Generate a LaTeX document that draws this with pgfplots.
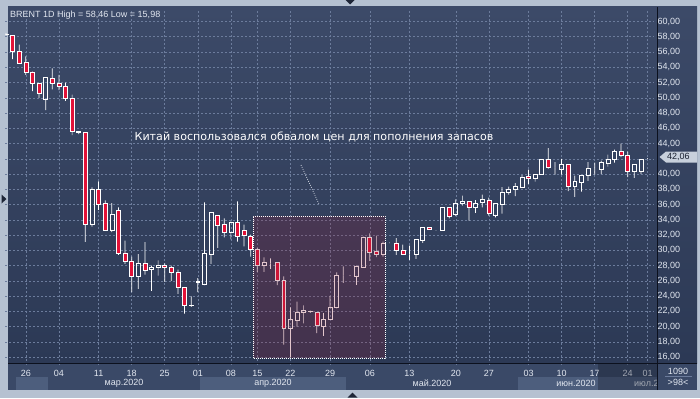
\documentclass[border=0pt]{standalone}
\usepackage{pgfplots}
\pgfplotsset{compat=1.18}
\usepackage{pgfplotstable}
\usepackage{fontspec}
\setmainfont{Liberation Sans}
\newfontfamily\dejavu{DejaVu Sans}
\definecolor{framec}{RGB}{181,193,209}
\definecolor{bgtop}{RGB}{60,74,104}
\definecolor{bgbot}{RGB}{44,57,85}
\definecolor{botbg}{RGB}{58,73,103}
\definecolor{bandlight}{RGB}{77,94,125}
\definecolor{gridc}{RGB}{108,124,156}
\definecolor{lbl}{RGB}{226,231,240}
\definecolor{cred}{RGB}{226,18,56}
\definecolor{boxc}{RGB}{140,31,55}
\definecolor{sepc}{RGB}{12,17,30}
\definecolor{tagc}{RGB}{200,208,220}
\definecolor{tagtxt}{RGB}{25,32,48}
\definecolor{tric}{RGB}{30,38,55}

\pgfplotstableread{
i o h l c
0 58.35 58.46 58.30 58.38
1 58.13 58.13 55.07 56.03
2 56.08 56.95 54.50 54.55
3 54.60 55.42 53.00 53.37
4 53.40 53.42 50.88 51.84
5 51.84 51.84 50.00 50.53
6 49.75 52.63 48.39 52.63
7 52.50 53.85 51.10 51.84
8 51.84 53.00 51.00 51.45
9 51.45 51.97 49.60 49.88
10 49.88 50.40 45.10 45.55
11 45.50 45.55 45.25 45.55
12 45.47 45.47 31.10 33.46
13 33.46 38.26 33.10 38.00
14 38.00 39.05 35.30 36.08
15 36.12 36.56 32.60 32.67
16 32.67 36.20 32.40 34.72
17 35.21 35.65 29.40 29.67
18 29.67 31.28 28.23 28.62
19 28.62 29.19 24.52 26.57
20 26.57 29.50 24.95 28.31
21 28.31 31.07 26.83 27.44
22 27.48 28.00 24.70 27.74
23 27.74 28.70 26.70 28.00
24 28.00 28.31 25.87 27.74
25 27.74 28.00 26.00 27.08
26 27.08 27.48 24.30 25.13
27 25.13 25.13 21.72 22.77
28 22.77 23.96 22.60 22.80
29 25.78 26.35 24.52 26.00
30 25.60 36.30 25.43 29.62
31 29.54 34.95 28.23 34.95
32 34.56 34.56 30.32 33.34
33 33.38 34.20 31.70 32.42
34 32.40 33.80 31.44 33.63
35 33.67 36.42 31.14 31.80
36 32.58 33.37 30.52 31.92
37 31.83 32.05 29.17 30.10
38 30.10 30.32 27.17 28.00
39 28.00 29.09 27.17 28.39
40 28.30 28.96 27.56 28.30
41 28.39 28.39 25.46 26.03
42 26.03 26.60 17.64 19.74
43 19.74 22.54 15.98 20.92
44 20.79 23.28 20.00 21.84
45 21.84 22.80 20.44 22.10
46 22.05 22.10 21.80 21.95
47 21.84 21.90 19.14 20.13
48 20.00 21.76 18.79 20.96
49 20.92 24.03 20.90 22.54
50 22.55 27.10 22.40 26.70
51 26.70 27.90 25.74 26.70
52 26.70 26.75 26.65 26.70
53 26.65 28.00 25.47 27.96
54 27.83 31.80 27.80 31.68
55 31.68 32.24 28.62 29.80
56 29.84 31.94 29.10 29.45
57 29.45 31.15 29.19 30.90
58 30.98 31.00 30.95 30.98
59 30.98 31.59 29.40 29.97
60 29.97 30.76 29.45 29.45
61 29.45 30.63 28.75 29.45
62 29.45 31.46 28.90 31.46
63 31.37 32.99 30.98 32.99
64 32.99 33.00 32.70 32.73
65 32.60 32.62 32.58 32.60
66 32.60 35.60 32.60 35.60
67 35.60 35.60 34.20 34.50
68 34.77 36.68 34.50 36.11
69 36.11 37.17 35.86 36.38
70 36.38 36.38 33.90 35.60
71 35.60 36.60 34.90 36.11
72 36.25 37.30 35.64 36.68
73 36.55 36.90 34.55 34.80
74 34.64 36.11 34.33 36.11
75 36.03 38.30 34.80 37.56
76 37.56 38.35 37.30 38.00
77 37.95 38.80 37.10 38.43
78 38.30 39.87 38.20 39.61
79 39.66 40.57 38.70 39.44
80 39.44 39.96 39.00 39.96
81 39.96 41.90 39.90 41.88
82 41.88 43.41 40.70 40.83
83 40.83 41.58 39.92 40.83
84 40.66 42.00 39.92 41.27
85 41.27 41.27 37.78 38.35
86 38.35 39.80 37.00 39.04
87 38.87 39.80 37.70 39.79
88 39.79 41.58 39.10 40.70
89 40.70 41.50 39.92 40.70
90 40.57 41.75 40.00 41.49
91 41.45 42.54 40.96 41.88
92 41.88 43.20 41.50 42.93
93 42.93 44.00 42.23 42.45
94 42.41 42.93 39.60 40.30
95 40.30 41.23 39.50 41.23
96 40.30 41.90 40.00 41.88
97 42.06 42.10 42.00 42.06
}\candles

\pgfplotsset{common/.style={
  at={(8,43)}, anchor=south west, scale only axis,
  width=649bp, height=356bp,
  xmin=-0.106, xmax=98.02, ymin=14.95, ymax=61.61,
  ybar stacked,
}}

\begin{document}
\begin{tikzpicture}[x=1bp,y=1bp]
% frame and backgrounds
\fill[framec] (0,0) rectangle (700,398);
\shade[top color=bgtop, bottom color=bgbot] (8,35) rectangle (657,391);
\shade[top color=bgtop, bottom color=bgbot] (657,35) rectangle (697,391);
\fill[botbg] (8,8) rectangle (697,35);
\fill[bandlight] (15.6,8) rectangle (48.2,21.3);
\fill[bandlight] (200,8) rectangle (346,21.3);
\fill[bandlight] (518,8) rectangle (657,21.3);

% grid, ticks and wicks
\begin{axis}[common,
  bar width=0.11,
  axis line style={draw=none},
  tick style={draw=none}, major tick length=0pt,
  xtick={3,8,14,19,24,29,34,38,43,49,55,61,68,73,79,84,89,94,97},
  xticklabels={26,04,11,18,25,01,08,15,22,29,06,13,20,27,03,10,17,24,01},
  ytick={16,18,...,40,44,46,...,60},
  extra y ticks={42},
  extra y tick labels={},
  extra y tick style={grid=major},
  yticklabel pos=right,
  grid=major,
  grid style={draw=gridc, dash pattern=on 2bp off 2bp, line width=0.5bp},
  ticklabel style={font=\fontsize{9bp}{10bp}\selectfont, text=lbl},
  xticklabel style={anchor=center, yshift=-8bp},
  yticklabel style={anchor=west, inner sep=0pt, xshift=3bp},
  /pgf/number format/.cd, fixed, fixed zerofill, precision=2, use comma, assume math mode=true,
]
\addplot[draw=none, fill=none] table[x=i, y=l]{\candles};
\addplot[draw=none, fill=white] table[x=i, y expr={max(min(\thisrow{o},\thisrow{c})-\thisrow{l},0)}]{\candles};
\addplot[draw=none, fill=none] table[x=i, y expr={abs(\thisrow{c}-\thisrow{o})}]{\candles};
\addplot[draw=none, fill=white] table[x=i, y expr={max(\thisrow{h}-max(\thisrow{o},\thisrow{c}),0)}]{\candles};
\end{axis}

% candle bodies
\begin{axis}[common, bar width=0.6, hide axis]
\addplot[draw=none, fill=none] table[x=i, y expr={min(\thisrow{o},\thisrow{c})}]{\candles};
\addplot[draw=white, fill=cred, line width=0.6bp] table[x=i, y expr={max(\thisrow{o}-\thisrow{c},0)}]{\candles};
\addplot[draw=white, fill=none, line width=0.6bp] table[x=i, y expr={max(\thisrow{c}-\thisrow{o},0)}]{\candles};
\end{axis}

% highlighted region
\fill[boxc, fill opacity=0.25] (253,40) rectangle (385,182);
\draw[white, dash pattern=on 1bp off 1bp, line width=0.6bp] (253,40) rectangle (385,182);
\draw[lbl, dash pattern=on 0.8bp off 1.4bp, line width=0.7bp] (301,233) -- (319,194);
\node[font=\dejavu\fontsize{11.1bp}{12bp}\selectfont, text=white] at (314,261) {Китай воспользовался обвалом цен для пополнения запасов};

% title
\node[anchor=west, inner sep=0pt, font=\fontsize{9bp}{10bp}\selectfont, text=lbl] at (10,383) {BRENT 1D High = 58,46 Low = 15,98};

% month labels
\begin{scope}
\clip (8,8) rectangle (657,35);
\node[font=\fontsize{9bp}{10bp}\selectfont, text=lbl] at (124,15) {мар.2020};
\node[font=\fontsize{9bp}{10bp}\selectfont, text=lbl] at (273,15) {апр.2020};
\node[font=\fontsize{9bp}{10bp}\selectfont, text=lbl] at (432,15) {май.2020};
\node[font=\fontsize{9bp}{10bp}\selectfont, text=lbl] at (576,15) {июн.2020};
\node[anchor=west, inner sep=0pt, font=\fontsize{9bp}{10bp}\selectfont, text=lbl] at (634,15) {июл.2};
\fill[sepc, fill opacity=0.3] (598,8) rectangle (657,35);
\end{scope}

% separators
\draw[sepc, line width=1bp] (657,8) -- (657,391);
\draw[sepc, line width=1bp] (8,35) -- (697,35);

% price tag
\fill[tagc] (659.5,241) -- (666,246.5) -- (697,246.5) -- (697,235.5) -- (666,235.5) -- cycle;
\node[anchor=west, inner sep=0pt, font=\fontsize{9bp}{10bp}\selectfont, text=tagtxt] at (667,241) {42,06};

% bottom-right box
\node[font=\fontsize{9bp}{10bp}\selectfont, text=lbl] at (678,27) {1090};
\draw[gridc, line width=0.6bp] (665,22) -- (692,22);
\node[font=\fontsize{9bp}{10bp}\selectfont, text=lbl] at (678,15.5) {>98<};

% frame triangles
\fill[tric] (1.5,203.5) -- (6.5,199) -- (1.5,194.5) -- cycle;
\fill[tric] (345.5,398) -- (354.5,398) -- (350,393.5) -- cycle;
\fill[tric] (347.5,0.5) -- (357.5,0.5) -- (352.5,5.5) -- cycle;
\end{tikzpicture}
\end{document}
